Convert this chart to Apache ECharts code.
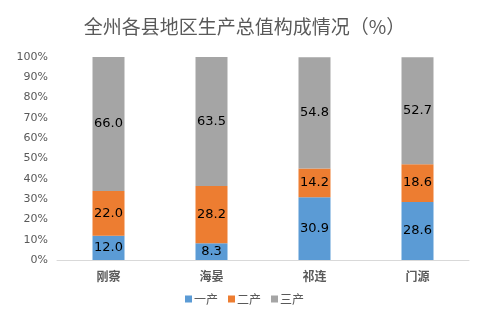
<!DOCTYPE html>
<html><head><meta charset="utf-8">
<script src="https://cdn.jsdelivr.net/npm/echarts@6/dist/echarts.min.js"></script>
<style>html,body{margin:0;padding:0;background:#fff}#c{width:489px;height:327px}</style>
</head><body><div id="c"></div>
<script>
const categories = ['刚察', '海晏', '祁连', '门源'];
const primary = [12.0, 8.3, 30.9, 28.6];
const secondary = [22.0, 28.2, 14.2, 18.6];
const tertiary = [66.0, 63.5, 54.8, 52.7];
const seriesNames = ['一产', '二产', '三产'];
const yTicks = [0, 10, 20, 30, 40, 50, 60, 70, 80, 90, 100];

const chart = echarts.init(document.getElementById('c'), null, {renderer: 'canvas'});
const label = {show: true, position: 'inside', color: '#000', fontSize: 13, fontFamily: 'DejaVu Sans',
  textBorderWidth: 0, textBorderColor: 'transparent',
  formatter: p => p.value.toFixed(1)};
const mk = (name, data, color) => ({name, type: 'bar', stack: 't', data, barWidth: 32,
  itemStyle: {color}, label});
chart.setOption({
  animation: false,
  title: {text: '全州各县地区生产总值构成情况（%）', left: 'center', top: 12,
    textStyle: {fontSize: 19, fontWeight: 'normal', color: '#595959', fontFamily: 'Noto Sans CJK SC'}},
  legend: {bottom: 17, left: 'center', itemWidth: 7, itemHeight: 7, itemGap: 10, icon: 'rect',
    textStyle: {fontSize: 12, color: '#595959', fontFamily: 'Noto Sans CJK SC', padding: [0, 0, 0, -3]}},
  grid: {left: 57, right: 20, top: 57, bottom: 67},
  xAxis: {type: 'category', data: categories,
    axisLine: {lineStyle: {color: '#D9D9D9'}}, axisTick: {show: false},
    axisLabel: {color: '#595959', fontSize: 12, fontWeight: 'bold', fontFamily: 'Noto Sans CJK SC', margin: 10}},
  yAxis: {type: 'value', min: 0, max: 100, interval: 10,
    axisLine: {show: false}, axisTick: {show: false}, splitLine: {show: false},
    axisLabel: {color: '#595959', fontSize: 11, fontFamily: 'DejaVu Sans', margin: 9,
      formatter: v => yTicks.includes(v) ? v + '%' : ''}},
  series: [mk(seriesNames[0], primary, '#5B9BD5'), mk(seriesNames[1], secondary, '#ED7D31'),
    mk(seriesNames[2], tertiary, '#A5A5A5')]
});
</script></body></html>
